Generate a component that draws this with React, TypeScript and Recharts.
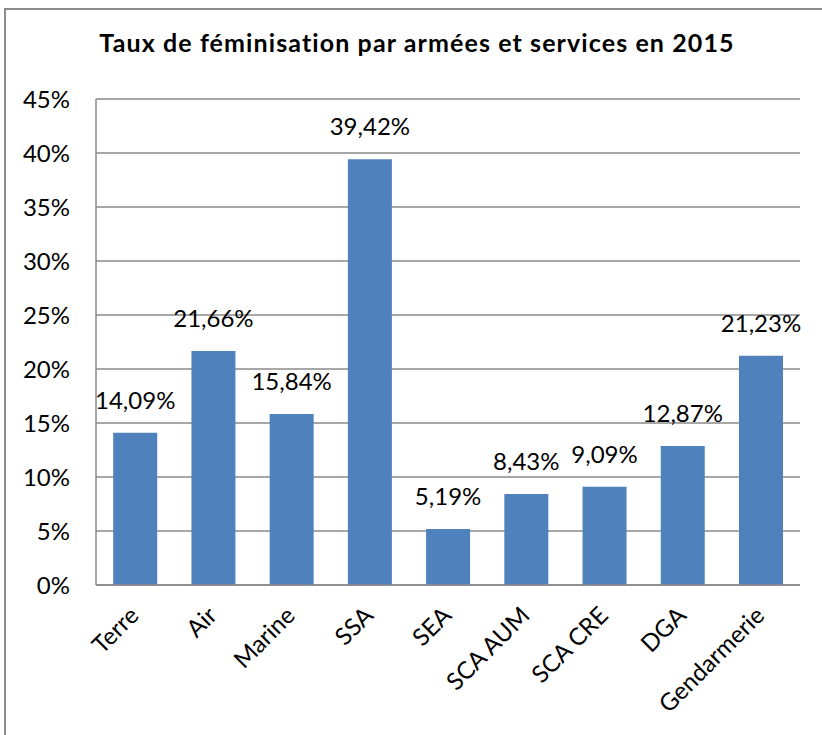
import React from 'react';
import { BarChart, Bar, XAxis, YAxis, CartesianGrid, LabelList } from 'recharts';

const categories = ['Terre', 'Air', 'Marine', 'SSA', 'SEA', 'SCA AUM', 'SCA CRE', 'DGA', 'Gendarmerie'];
const rates = [14.09, 21.66, 15.84, 39.42, 5.19, 8.43, 9.09, 12.87, 21.23];
const yTicks = [0, 5, 10, 15, 20, 25, 30, 35, 40, 45];
const title = 'Taux de féminisation par armées et services en 2015';

const data = categories.map((name, i) => ({ name, value: rates[i] }));

const FONT = 'Lato, "Open Sans", sans-serif';
const GRID = '#8a8a8a';

const fmt = (v: number) => v.toFixed(2).replace('.', ',') + '%';

const XTick = (props: any) => {
  const { x, y, payload } = props;
  const ax = x + 5;
  const ay = y + 24;
  return (
    <text
      x={ax}
      y={ay}
      textAnchor="end"
      transform={`rotate(-45, ${ax}, ${ay})`}
      fontFamily={FONT}
      fontSize={24}
      fill="#000"
    >
      {payload.value}
    </text>
  );
};

export default function App() {
  return (
    <div style={{ position: 'absolute', left: 0, top: 0, width: 822, height: 735, background: '#fff', overflow: 'hidden' }}>
      <div
        style={{
          position: 'absolute',
          left: 4,
          top: 8,
          width: 818,
          height: 727,
          borderLeft: '2px solid #8c8c8c',
          borderTop: '2px solid #8c8c8c',
          boxSizing: 'border-box',
        }}
      />
      <div
        style={{
          position: 'absolute',
          left: 0,
          width: 834,
          top: 27,
          textAlign: 'center',
          fontFamily: FONT,
          fontWeight: 700,
          fontSize: 25,
          letterSpacing: 1.1,
          color: '#000',
          lineHeight: '30px',
          whiteSpace: 'nowrap',
        }}
      >
        {title}
      </div>
      <div style={{ position: 'absolute', left: 0, top: 0 }}>
        <BarChart
          width={822}
          height={735}
          data={data}
          margin={{ top: 99, right: 22, left: 0, bottom: 0 }}
          barCategoryGap="22%"
        >
          <CartesianGrid vertical={false} stroke={GRID} strokeWidth={1.5} />
          <XAxis
            dataKey="name"
            height={150}
            interval={0}
            tickLine={false}
            axisLine={{ stroke: GRID, strokeWidth: 1.5 }}
            tick={<XTick />}
          />
          <YAxis
            width={96}
            domain={[0, 45]}
            ticks={yTicks}
            interval={0}
            tickLine={false}
            tickSize={6}
            tickMargin={20}
            axisLine={{ stroke: GRID, strokeWidth: 1.5 }}
            tickFormatter={(v: number) => `${v}%`}
            tick={{ fontFamily: FONT, fontSize: 24, fill: '#000' }}
          />
          <Bar dataKey="value" fill="#4F81BD" isAnimationActive={false}>
            <LabelList
              dataKey="value"
              position="top"
              offset={24}
              formatter={(v: any) => fmt(Number(v))}
              style={{ fontFamily: FONT, fontSize: 24, fill: '#000' }}
            />
          </Bar>
        </BarChart>
      </div>
    </div>
  );
}
